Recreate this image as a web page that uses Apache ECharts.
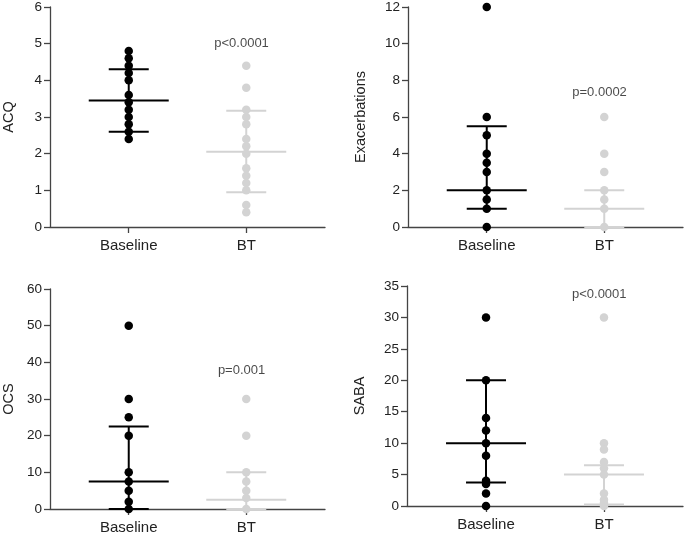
<!DOCTYPE html>
<html>
<head>
<meta charset="utf-8">
<script src="https://cdn.jsdelivr.net/npm/echarts@6/dist/echarts.min.js"></script>
<style>
html,body{margin:0;padding:0;background:#fff;}
#chart{width:685px;height:538px;}
</style>
</head>
<body>
<div id="chart"></div>
<script>
// ---- data ----
const categories = ['Baseline', 'BT'];
const panelNames = ['ACQ', 'Exacerbations', 'OCS', 'SABA'];

const acqBaseline = [4.8, 4.6, 4.4, 4.2, 4.0, 3.6, 3.4, 3.2, 3.0, 2.8, 2.6, 2.4];
const acqBT = [4.4, 3.8, 3.2, 3.0, 2.8, 2.4, 2.2, 2.0, 1.6, 1.4, 1.2, 1.0, 0.6, 0.4];
const exacBaseline = [12, 6, 5, 4, 3.5, 3, 2, 1.5, 1, 0];
const exacBT = [6, 4, 3, 2, 1.5, 1, 0];
const ocsBaseline = [50, 30, 25, 20, 10, 7.5, 5, 2, 0];
const ocsBT = [30, 20, 10, 7.5, 5, 3, 0];
const sabaBaseline = [30, 20, 14, 12, 10, 8, 4, 3.5, 2, 0];
const sabaBT = [30, 10, 9, 7, 6, 5, 2, 1, 0.5, 0];

// summary lines: [median, q1, q3]
const acqStats = [[3.45, 2.6, 4.3], [2.05, 0.95, 3.17]];
const exacStats = [[2, 1, 5.5], [1, 0, 2]];
const ocsStats = [[7.5, 0, 22.5], [2.5, 0, 10]];
const sabaStats = [[10, 3.75, 20], [5, 0.25, 6.5]];

// y-axis ranges
const yMax = [6, 12, 60, 35];
const yInterval = [1, 2, 10, 5];

// p-value annotations: [text, y-value]
const pTexts = ['p<0.0001', 'p=0.0002', 'p=0.001', 'p<0.0001'];
const pY = [5.02, 7.33, 37.8, 33.6];

// ---- layout ----
const grids = [
  {left: 48, top: 7, width: 277, height: 220},
  {left: 408, top: 7, width: 275, height: 220},
  {left: 48, top: 289, width: 277, height: 220},
  {left: 407, top: 286, width: 276, height: 220}
];
const nameGaps = [34, 40, 34, 40];

const BLACK = '#000000';
const GREY = '#d3d3d3';
const AXIS = '#444444';
const FONT = 'Liberation Sans, Arial, sans-serif';

const dataSets = [
  [acqBaseline, acqBT, acqStats],
  [exacBaseline, exacBT, exacStats],
  [ocsBaseline, ocsBT, ocsStats],
  [sabaBaseline, sabaBT, sabaStats]
];

const xAxes = [], yAxes = [], series = [];
for (let i = 0; i < 4; i++) {
  xAxes.push({
    type: 'value', gridIndex: i, min: 0.33, max: 2.67,
    axisLine: {show: true, lineStyle: {color: AXIS, width: 1.3}},
    axisTick: {show: true, length: 6, customValues: [1, 2], lineStyle: {color: AXIS, width: 1.3}},
    axisLabel: {
      customValues: [1, 2], margin: 11, fontSize: 15, color: '#222', fontFamily: FONT,
      formatter: v => categories[Math.round(v) - 1] || ''
    },
    splitLine: {show: false}
  });
  yAxes.push({
    type: 'value', gridIndex: i, min: 0, max: yMax[i], interval: yInterval[i],
    name: panelNames[i], nameLocation: 'middle', nameGap: nameGaps[i],
    nameTextStyle: {fontSize: 14.5, color: '#222', fontFamily: FONT},
    axisLine: {show: true, lineStyle: {color: AXIS, width: 1.3}},
    axisTick: {show: true, length: 6, lineStyle: {color: AXIS, width: 1.3}},
    axisLabel: {fontSize: 13.5, color: '#222', margin: 8, fontFamily: FONT},
    splitLine: {show: false}
  });

  const [base, bt, stats] = dataSets[i];
  // error bars (median + IQR)
  series.push({
    type: 'custom', xAxisIndex: i, yAxisIndex: i, z: 3, silent: true,
    data: stats.map((s, k) => [k + 1, s[0], s[1], s[2]]),
    renderItem: function (params, api) {
      const x = api.value(0);
      const med = api.coord([x, api.value(1)]);
      const q1 = api.coord([x, api.value(2)]);
      const q3 = api.coord([x, api.value(3)]);
      const color = params.dataIndex === 0 ? BLACK : GREY;
      const st = {stroke: color, lineWidth: 2};
      return {
        type: 'group',
        children: [
          {type: 'line', shape: {x1: q1[0], y1: q1[1], x2: q3[0], y2: q3[1]}, style: st},
          {type: 'line', shape: {x1: med[0] - 40, y1: med[1], x2: med[0] + 40, y2: med[1]}, style: st},
          {type: 'line', shape: {x1: q1[0] - 20, y1: q1[1], x2: q1[0] + 20, y2: q1[1]}, style: st},
          {type: 'line', shape: {x1: q3[0] - 20, y1: q3[1], x2: q3[0] + 20, y2: q3[1]}, style: st}
        ]
      };
    }
  });
  series.push({
    type: 'scatter', xAxisIndex: i, yAxisIndex: i, z: 4, symbolSize: 8.5, silent: true,
    itemStyle: {color: BLACK, opacity: 1},
    data: base.map(v => [1, v])
  });
  series.push({
    type: 'scatter', xAxisIndex: i, yAxisIndex: i, z: 4, symbolSize: 8.5, silent: true,
    itemStyle: {color: GREY, opacity: 1},
    data: bt.map(v => [2, v])
  });
  // p-value text
  series.push({
    type: 'scatter', xAxisIndex: i, yAxisIndex: i, z: 5, symbolSize: 0, silent: true,
    data: [[1.96, pY[i]]],
    label: {
      show: true, position: 'inside', formatter: pTexts[i],
      fontSize: 13, color: '#1a1a1a', fontFamily: FONT
    }
  });
}

const chart = echarts.init(document.getElementById('chart'), null, {renderer: 'canvas'});
chart.setOption({
  animation: false,
  backgroundColor: '#fff',
  grid: grids,
  xAxis: xAxes,
  yAxis: yAxes,
  series: series
});
</script>
</body>
</html>
